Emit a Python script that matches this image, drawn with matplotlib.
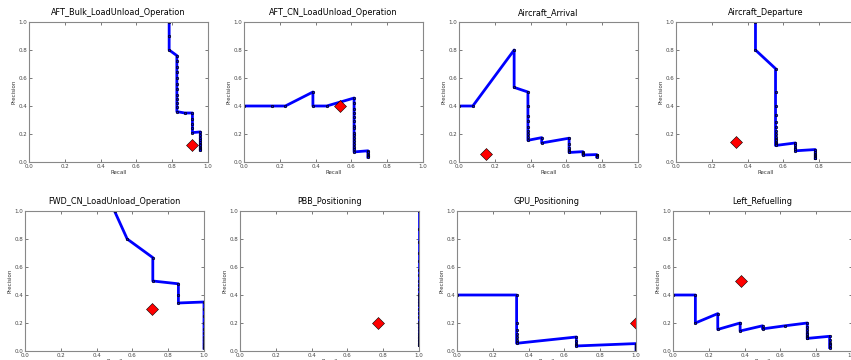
import matplotlib
matplotlib.use("Agg")
import matplotlib.pyplot as plt

# classes, in panel order
titles = ["AFT_Bulk_LoadUnload_Operation", "AFT_CN_LoadUnload_Operation",
          "Aircraft_Arrival", "Aircraft_Departure",
          "FWD_CN_LoadUnload_Operation", "PBB_Positioning",
          "GPU_Positioning", "Left_Refuelling"]

# precision / recall curves
rec_bulk = [0.783] * 3 + [0.826] * 12 + [0.870] + [0.913] * 5 + [0.957] * 12
prec_bulk = [1.0, 0.9, 0.8,
             0.76, 0.72, 0.68, 0.64, 0.60, 0.56, 0.52, 0.48, 0.45, 0.42, 0.39, 0.36,
             0.35,
             0.35, 0.31, 0.27, 0.24, 0.21,
             0.215, 0.19, 0.17, 0.155, 0.14, 0.13, 0.12, 0.11, 0.10, 0.095, 0.09, 0.085]

rec_aftcn = [0.0, 0.154, 0.231, 0.385, 0.385, 0.462] + [0.615] * 16 + [0.692] * 7
prec_aftcn = [0.4, 0.4, 0.4, 0.5, 0.4, 0.4,
              0.457, 0.42, 0.38, 0.35, 0.32, 0.29, 0.26, 0.24, 0.21, 0.19, 0.17, 0.15,
              0.13, 0.11, 0.09, 0.072,
              0.08, 0.07, 0.06, 0.05, 0.045, 0.04, 0.035]

rec_arr = ([0.0, 0.077, 0.308, 0.308] + [0.385] * 9 + [0.462, 0.462]
           + [0.615] * 6 + [0.692] * 4 + [0.769] * 6)
prec_arr = [0.4, 0.4, 0.8, 0.533,
            0.5, 0.4, 0.33, 0.29, 0.25, 0.22, 0.2, 0.18, 0.155,
            0.174, 0.136,
            0.17, 0.13, 0.10, 0.085, 0.075, 0.068,
            0.074, 0.065, 0.058, 0.05,
            0.053, 0.05, 0.047, 0.044, 0.04, 0.037]

rec_dep = [0.444, 0.444] + [0.556] * 15 + [0.667] * 5 + [0.778] * 8
prec_dep = [1.0, 0.8,
            0.667, 0.5, 0.4, 0.333, 0.286, 0.25, 0.222, 0.2, 0.182, 0.167, 0.154,
            0.143, 0.133, 0.125, 0.118,
            0.136, 0.12, 0.1, 0.09, 0.08,
            0.089, 0.07, 0.06, 0.05, 0.04, 0.035, 0.03, 0.025]

rec_fwd = [0.5, 0.571, 0.714, 0.714, 0.857, 0.857, 0.857] + [1.0] * 12
prec_fwd = [1.0, 0.8, 0.667, 0.5, 0.48, 0.4, 0.343,
            0.35, 0.3, 0.25, 0.2, 0.16, 0.13, 0.1, 0.08, 0.06, 0.04, 0.03, 0.02]

rec_pbb = [1.0] * 32
prec_pbb = [1.0, 0.875, 0.78, 0.7, 0.64, 0.58, 0.54, 0.5, 0.47, 0.44, 0.41, 0.39,
            0.37, 0.35, 0.33, 0.3, 0.27, 0.24, 0.21, 0.19, 0.17, 0.15, 0.13, 0.115,
            0.1, 0.09, 0.08, 0.07, 0.06, 0.05, 0.045, 0.04]

rec_gpu = [0.0] + [0.333] * 8 + [0.667] * 5 + [1.0] * 5
prec_gpu = [0.4, 0.4, 0.2, 0.15, 0.12, 0.1, 0.08, 0.065, 0.055,
            0.1, 0.07, 0.05, 0.04, 0.036,
            0.053, 0.04, 0.03, 0.02, 0.01]

rec_left = ([0.0, 0.125, 0.125, 0.25, 0.25, 0.375, 0.375, 0.5, 0.5, 0.625]
            + [0.75] * 9 + [0.875] * 7)
prec_left = [0.4, 0.4, 0.2, 0.267, 0.154, 0.2, 0.143, 0.18, 0.158, 0.18,
             0.2, 0.17, 0.15, 0.13, 0.12, 0.11, 0.1, 0.095, 0.09,
             0.105, 0.08, 0.06, 0.05, 0.04, 0.03, 0.025]

# single operating point (red diamond) per class
point_rec = [0.91, 0.536, 0.153, 0.333, 0.71, 0.773, 1.0, 0.38]
point_prec = [0.12, 0.40, 0.06, 0.14, 0.30, 0.20, 0.20, 0.50]

curves = [(rec_bulk, prec_bulk), (rec_aftcn, prec_aftcn), (rec_arr, prec_arr),
          (rec_dep, prec_dep), (rec_fwd, prec_fwd), (rec_pbb, prec_pbb),
          (rec_gpu, prec_gpu), (rec_left, prec_left)]

W, H = 851.0, 360.0
fig = plt.figure(figsize=(W / 100, H / 100), dpi=100, facecolor="white")

# axes boxes in pixels: left, top, width, height
lefts = [29, 244, 459, 676, 25, 240, 457, 673]
tops = [22, 22, 22, 22, 211, 211, 211, 211]
aw, ah = 179, 140

for i in range(8):
    ax = fig.add_axes([lefts[i] / W, 1 - (tops[i] + ah) / H, aw / W, ah / H])
    r, p = curves[i]
    ax.plot(r, p, color="b", lw=2, marker=".", ms=3.5, mec="k", mew=0.5, mfc="b")
    ax.plot(point_rec[i], point_prec[i], "D", color="r", ms=5.8, mec="k", mew=0.4)
    ax.set_xlim(0, 1)
    ax.set_ylim(0, 1)
    ax.set_xticks([0, 0.2, 0.4, 0.6, 0.8, 1.0])
    ax.set_yticks([0, 0.2, 0.4, 0.6, 0.8, 1.0])
    ax.tick_params(direction="in", top=True, right=True, length=2, width=0.5,
                   labelsize=4, pad=1.5, colors="#444444")
    for s in ax.spines.values():
        s.set_color("#888888")
        s.set_linewidth(0.8)
    ax.set_title(titles[i], fontsize=5.9, pad=5)
    ax.set_xlabel("Recall", fontsize=4, labelpad=0.5, color="#333333")
    ax.set_ylabel("Precision", fontsize=4, labelpad=1, color="#333333")

fig.savefig("out.png", dpi=100, facecolor="white")
